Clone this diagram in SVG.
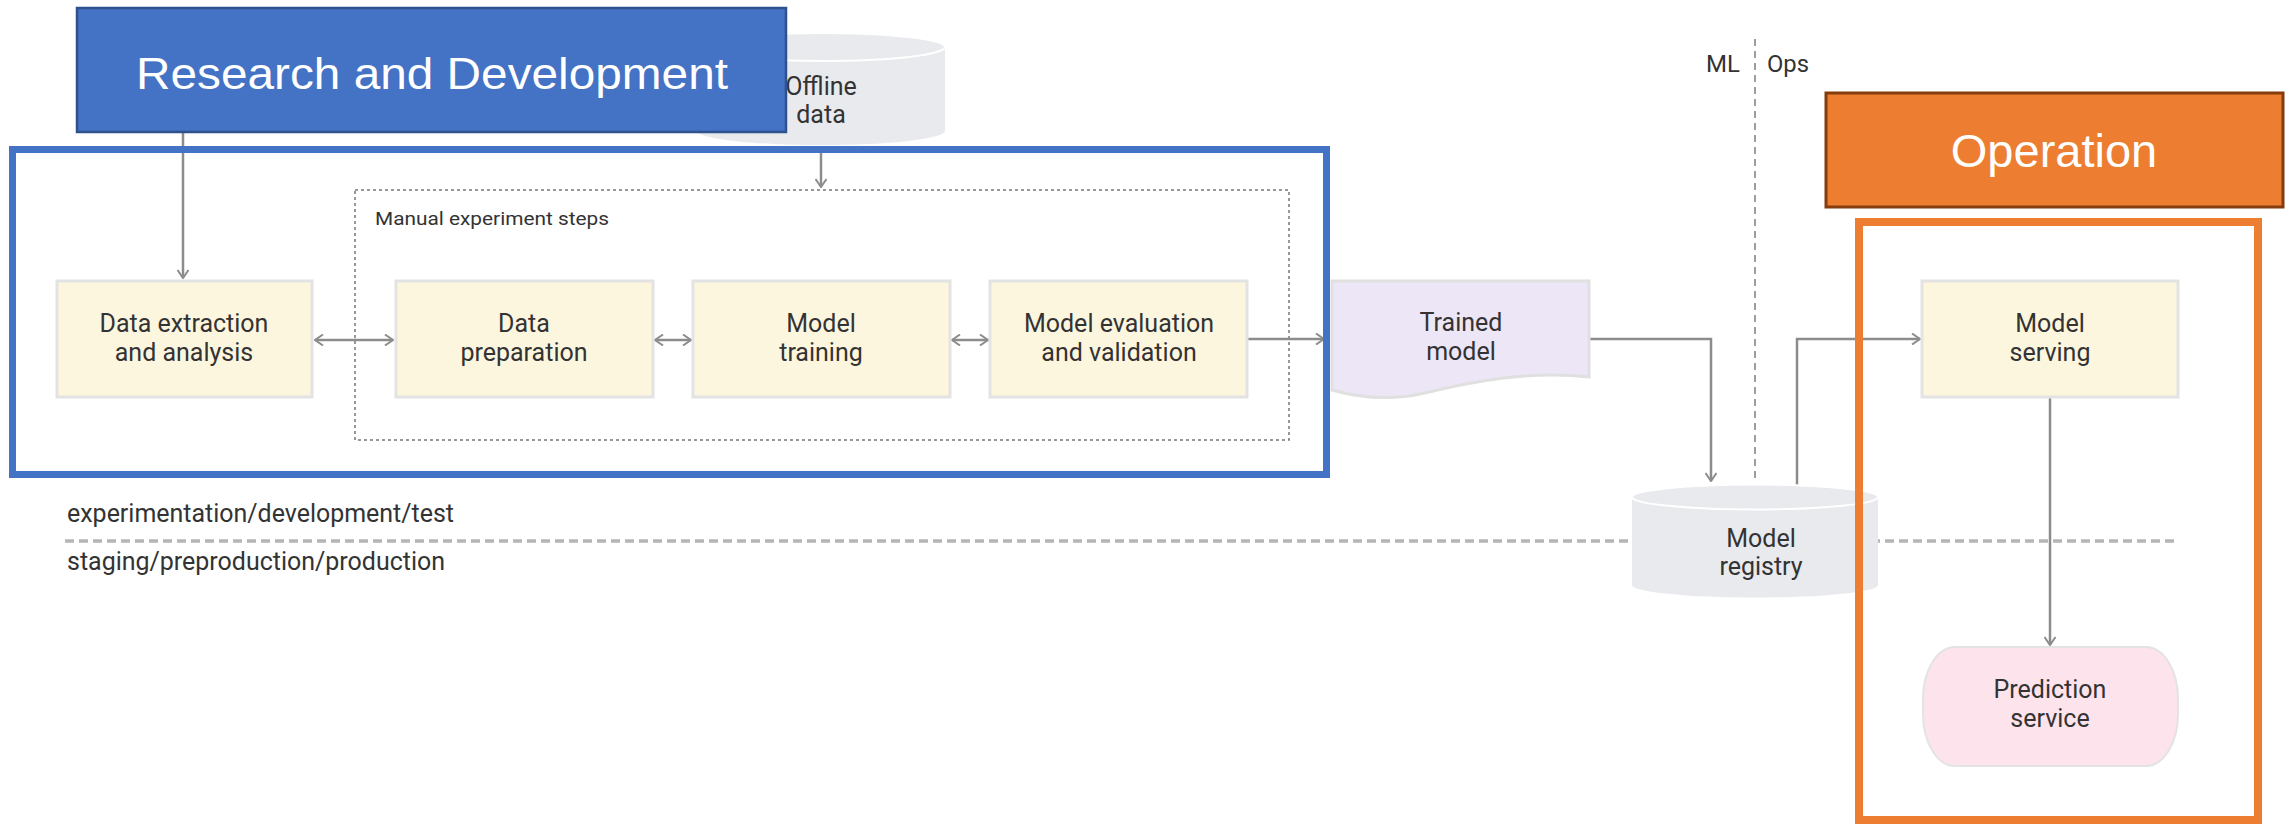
<svg xmlns="http://www.w3.org/2000/svg" width="2292" height="824" viewBox="0 0 2292 824">
<defs>
<style>
.box{fill:#fdf6df;stroke:#e3e3e3;stroke-width:3}
.t{font-family:Roboto,"Liberation Sans",sans-serif;font-size:25px;fill:#333;text-anchor:middle}
.s{font-family:Roboto,"Liberation Sans",sans-serif;fill:#333}
.c{fill:none;stroke:#8c8c8c;stroke-width:2.5}
.cyl{fill:#e8eaed}
</style>
<marker id="ah" viewBox="0 0 10 12" refX="9" refY="6" markerWidth="10" markerHeight="12" markerUnits="userSpaceOnUse" orient="auto-start-reverse">
<path d="M1,0.5 L9,6 L1,11.5" fill="none" stroke="#8c8c8c" stroke-width="2"/>
</marker>
</defs>
<rect width="2292" height="824" fill="#fff"/>

<g id="stage-divider">
<line x1="65" y1="541" x2="2177" y2="541" stroke="#b5b5b5" stroke-width="3.5" stroke-dasharray="9 5"/>
<text class="s" x="67" y="522" font-size="25" textLength="387" lengthAdjust="spacingAndGlyphs">experimentation/development/test</text>
<text class="s" x="67" y="570" font-size="25" textLength="378" lengthAdjust="spacingAndGlyphs">staging/preproduction/production</text>
</g>

<g id="ml-ops-divider">
<line x1="1755" y1="39" x2="1755" y2="483" stroke="#9e9e9e" stroke-width="2" stroke-dasharray="7 5"/>
<text class="s" x="1706" y="72" font-size="24" textLength="34" lengthAdjust="spacingAndGlyphs">ML</text>
<text class="s" x="1767" y="72" font-size="24" textLength="42" lengthAdjust="spacingAndGlyphs">Ops</text>
</g>

<g id="offline-data">
<path class="cyl" d="M697,47 A124,14 0 0 1 945,47 V131 A124,14 0 0 1 697,131 Z"/>
<ellipse cx="821" cy="47" rx="124" ry="14" fill="#e8eaed" stroke="#fff" stroke-width="2"/>
<text class="t" x="821" y="95">Offline</text>
<text class="t" x="821" y="123">data</text>
</g>

<g id="manual-steps">
<rect x="355" y="190" width="934" height="250" fill="none" stroke="#777" stroke-width="1.5" stroke-dasharray="3 3"/>
<text class="s" x="375" y="225" font-size="18" textLength="234" lengthAdjust="spacingAndGlyphs">Manual experiment steps</text>
</g>

<g id="connectors">
<line class="c" x1="183" y1="133" x2="183" y2="278" marker-end="url(#ah)"/>
<line class="c" x1="821" y1="146" x2="821" y2="187" marker-end="url(#ah)"/>
<line class="c" x1="315" y1="340" x2="393" y2="340" marker-start="url(#ah)" marker-end="url(#ah)"/>
<line class="c" x1="655" y1="340" x2="691" y2="340" marker-start="url(#ah)" marker-end="url(#ah)"/>
<line class="c" x1="952" y1="340" x2="988" y2="340" marker-start="url(#ah)" marker-end="url(#ah)"/>
<line class="c" x1="1248" y1="339" x2="1324" y2="339" marker-end="url(#ah)"/>
<polyline class="c" points="1589,339 1711,339 1711,481" marker-end="url(#ah)"/>
<polyline class="c" points="1797,485 1797,339 1920,339" marker-end="url(#ah)"/>
<line class="c" x1="2050" y1="398" x2="2050" y2="645" marker-end="url(#ah)"/>
</g>

<g id="data-extraction">
<rect class="box" x="57" y="281" width="255" height="116"/>
<text class="t" x="184" y="332">Data extraction</text>
<text class="t" x="184" y="361">and analysis</text>
</g>
<g id="data-preparation">
<rect class="box" x="396" y="281" width="257" height="116"/>
<text class="t" x="524" y="332">Data</text>
<text class="t" x="524" y="361">preparation</text>
</g>
<g id="model-training">
<rect class="box" x="693" y="281" width="257" height="116"/>
<text class="t" x="821" y="332">Model</text>
<text class="t" x="821" y="361">training</text>
</g>
<g id="model-evaluation">
<rect class="box" x="990" y="281" width="257" height="116"/>
<text class="t" x="1119" y="332">Model evaluation</text>
<text class="t" x="1119" y="361">and validation</text>
</g>

<g id="trained-model">
<path d="M1332,281 H1589 V377 C1530,370 1470,382 1425,393 C1390,401 1360,398 1332,390 Z" fill="#ede6f7" stroke="#e0e0e0" stroke-width="3"/>
<text class="t" x="1461" y="331">Trained</text>
<text class="t" x="1461" y="360">model</text>
</g>

<g id="model-registry">
<path class="cyl" d="M1632,497 A123,12.5 0 0 1 1878,497 V585 A123,12.5 0 0 1 1632,585 Z"/>
<ellipse cx="1755" cy="497" rx="123" ry="12.5" fill="#e8eaed" stroke="#fff" stroke-width="2"/>
<text class="t" x="1761" y="547">Model</text>
<text class="t" x="1761" y="575">registry</text>
</g>

<g id="model-serving">
<rect class="box" x="1922" y="281" width="256" height="116"/>
<text class="t" x="2050" y="332">Model</text>
<text class="t" x="2050" y="361">serving</text>
</g>

<g id="prediction-service">
<rect x="1923" y="647" width="255" height="119" rx="32" ry="52" fill="#fde3ec" stroke="#e3e3e3" stroke-width="2"/>
<text class="t" x="2050" y="698">Prediction</text>
<text class="t" x="2050" y="727">service</text>
</g>

<g id="rd-frame">
<rect x="12.5" y="149.5" width="1314" height="325" fill="none" stroke="#4472c4" stroke-width="7"/>
</g>
<g id="op-frame">
<rect x="1859" y="222" width="399" height="598" fill="none" stroke="#ed7d31" stroke-width="8"/>
</g>

<g id="rd-label">
<rect x="77" y="8" width="709" height="124" fill="#4472c4" stroke="#2f528f" stroke-width="2.5"/>
<text x="136" y="89" font-family="'Liberation Sans',Arial,sans-serif" font-size="44" fill="#fff" textLength="592" lengthAdjust="spacingAndGlyphs">Research and Development</text>
</g>
<g id="op-label">
<rect x="1826" y="93" width="457" height="114" fill="#ed7d31" stroke="#843c0c" stroke-width="3"/>
<text x="2054" y="167" font-family="'Liberation Sans',Arial,sans-serif" font-size="47" fill="#fff" text-anchor="middle">Operation</text>
</g>
</svg>
